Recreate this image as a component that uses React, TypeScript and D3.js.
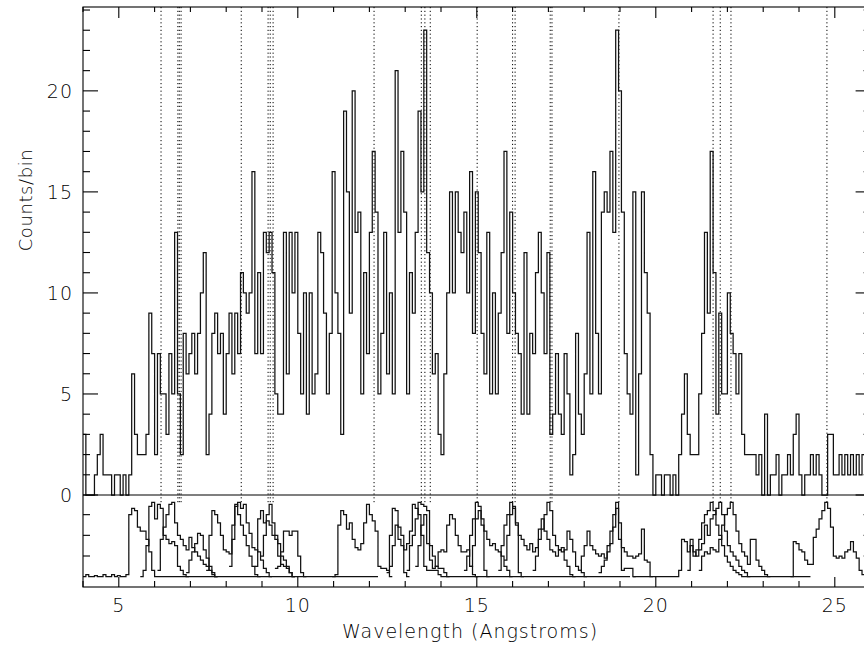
import React from "react";
import * as d3 from "d3";

// histogram grid (Angstrom)
const BIN_START = 4.0;
const BIN_WIDTH = 0.08;

// observed counts per bin, 4.00 .. 26.00 A
const counts = [
  3, 0, 0, 0, 1, 2, 3, 1, 1, 1,
  0, 1, 1, 0, 1, 0, 1, 6, 3, 2,
  2, 2, 3, 9, 7, 2, 7, 5, 5, 3,
  7, 5, 13, 5, 2, 8, 6, 7, 8, 6,
  8, 10, 12, 2, 4, 8, 9, 7, 8, 4,
  7, 9, 6, 9, 7, 11, 10, 9, 10, 16,
  7, 11, 7, 13, 12, 13, 11, 5, 4, 4,
  13, 6, 13, 10, 13, 8, 5, 10, 4, 10,
  5, 6, 13, 12, 9, 5, 8, 16, 10, 8,
  3, 19, 15, 9, 20, 13, 14, 5, 11, 7,
  13, 17, 14, 5, 8, 13, 6, 10, 5, 21,
  13, 17, 14, 5, 11, 9, 13, 19, 15, 23,
  12, 10, 6, 7, 3, 2, 6, 10, 15, 10,
  15, 13, 12, 14, 10, 16, 8, 15, 12, 8,
  6, 13, 5, 10, 5, 9, 12, 17, 8, 14,
  10, 8, 7, 4, 12, 4, 8, 7, 11, 13,
  10, 7, 12, 3, 4, 7, 4, 3, 7, 5,
  1, 2, 8, 4, 3, 6, 13, 5, 16, 8,
  5, 14, 15, 14, 17, 13, 23, 20, 14, 7,
  5, 4, 15, 1, 6, 15, 11, 9, 2, 0,
  1, 1, 0, 1, 1, 0, 1, 0, 2, 4,
  6, 3, 2, 2, 2, 5, 8, 13, 9, 17,
  11, 4, 9, 5, 5, 10, 8, 7, 5, 7,
  3, 2, 2, 2, 2, 1, 2, 0, 4, 0,
  1, 1, 2, 0, 1, 1, 2, 1, 3, 4,
  1, 0, 1, 1, 2, 1, 2, 1, 0, 0,
  3, 3, 1, 1, 2, 1, 2, 1, 2, 1,
  2, 1, 2, 2, 2,
];

// line positions marked with dotted lines
const lineWavelengths = [
  6.18, 6.65, 6.69, 6.74, 8.42, 9.17, 9.23, 9.31, 12.13, 13.45, 13.55, 13.7,
  15.01, 16.0, 16.07, 17.05, 17.1, 18.97, 21.6, 21.8, 22.1, 24.78,
];

const xTickLabels = [5, 10, 15, 20, 25];
const yTickLabels = [0, 5, 10, 15, 20];
const lowerTicks = [1, 2, 3];

// model profiles in the lower panel: first bin index on the grid + values
const profileStarts = [0, 20, 26, 36, 43, 51, 60, 67, 62, 87, 106, 107, 113, 116, 133, 135, 145, 147, 157, 173, 180, 192, 211, 215, 247];

const profile01 = [
  0, 0.1, 0, 0, 0.05, 0, 0, 0.1, 0, 0, 0.1, 0, 0.05, 0, 0, 0.1,
  3.0, 3.3, 3.2, 2.4, 2.2, 2.2, 1.8, 1.2, 0.3,
  0, 0, 0, 0, 0, 0, 0, 0, 0, 0,
  0, 0, 0, 0, 0, 0, 0, 0, 0, 0,
  0, 0, 0, 0, 0, 0, 0, 0, 0, 0,
  0, 0, 0, 0, 0, 0, 0, 0, 0, 0,
  0, 0, 0, 0, 0, 0, 0, 0, 0, 0,
  0, 0, 0, 0, 0, 0, 0, 0, 0, 0,
  0, 0, 0, 0, 0, 0, 0, 0, 0, 0,
  0, 0, 0, 0, 0, 0, 0, 0,
];
const profile02 = [0, 0.3, 1.5, 3.4, 3.6, 2.8, 3.5, 3.3, 2.0, 1.8, 1.6, 1.7, 1.5, 0.5, 0.3, 0.1, 0];
const profile03 = [0.3, 1.8, 2.4, 3.0, 3.5, 3.6, 2.6, 2.0, 1.8, 1.5, 1.3, 1.9, 1.4, 1.2, 1.0, 0.8, 0.6, 0.5, 0.3, 0.1, 0];
const profile04 = [0.2, 0.8, 1.2, 1.6, 2.1, 2.0, 1.3, 0.9, 0.5, 0.2, 0];
const profile05 = [0.3, 2.0, 3.2, 3.0, 2.6, 2.0, 1.3, 1.2, 1.1, 1.8, 3.4, 3.6, 3.3, 3.5, 2.6, 2.1, 1.4, 1.3, 1.2, 0.8, 0.4, 0.2, 0];
const profile06 = [0.5, 2.5, 3.5, 3.0, 2.5, 2.0, 1.5, 1.0, 0.5, 0.1, 0];
const profile07 = [0.5, 2.8, 3.2, 2.6, 2.7, 2.5, 2.0, 1.8, 1.0, 0.6, 0.5, 0.4, 0.2, 0];
const profile08 = [0.4, 0.5, 1.2, 2.2, 2.2, 2.0, 2.2, 2.2, 1.0, 0.2, 0];
const profile09 = [1.0, 2.0, 3.0, 3.5, 2.6, 2.0, 1.6, 1.0, 0.8, 0.5, 0.2, 0];
const profile10 = [0, 0.1, 2.5, 3.2, 3.0, 2.3, 2.6, 1.8, 1.4, 1.3, 1.6, 2.6, 3.5, 3.0, 2.7, 2.2, 0.5, 0.4, 0.4, 0.3, 0];
const profile11 = [0.2, 2.0, 3.3, 3.2, 2.4, 2.0, 0.2, 0];
const profile12 = [
  0.5, 1.5, 2.5, 1.8, 1.5, 1.3, 1.6, 2.2, 3.5, 3.3, 3.0, 2.0, 0.5, 0.3, 0.3, 0.3, 0.3, 0.1, 0,
  0, 0, 0, 0, 0, 0, 0, 0, 0, 0,
  0, 0, 0, 0, 0, 0, 0, 0, 0, 0,
  0, 0, 0, 0, 0, 0, 0, 0, 0, 0,
  0, 0, 0, 0, 0, 0, 0, 0, 0, 0,
  0, 0, 0, 0, 0, 0, 0, 0, 0, 0,
  0, 0, 0, 0, 0, 0, 0, 0, 0, 0,
  0, 0, 0, 0, 0,
];
const profile13 = [0.3, 1.5, 2.0, 2.8, 3.6, 3.5, 3.4, 3.2, 1.5, 1.0, 0.5, 0.4, 0.4, 0.2, 0];
const profile14 = [0.5, 1.5, 2.5, 3.0, 1.6, 0.8, 0.4, 0.5, 1.2, 1.3, 1.2, 2.5, 3.0, 2.8, 2.0, 1.5, 1.2, 1.2, 1.3, 0.5, 0.1, 0];
const profile15 = [0.3, 1.0, 2.0, 2.8, 3.6, 3.4, 2.5, 0.3, 0];
const profile16 = [0.5, 1.5, 2.8, 3.2, 2.8, 2.2, 1.8, 1.5, 1.6, 1.3, 1.2, 1.0, 0.5, 0.3, 0];
const profile17 = [0.3, 1.5, 2.5, 3.0, 3.6, 3.3, 2.5, 0.2, 0];
const profile18 = [0.8, 2.0, 3.0, 3.4, 2.6, 2.0, 1.8, 1.5, 1.3, 1.6, 1.2, 1.4, 2.3, 2.8, 2.2, 1.8, 1.3, 1.2, 1.0, 1.3, 1.4, 0.8, 0.5, 0.1, 0];
const profile19 = [0.3, 1.0, 1.8, 2.3, 3.0, 3.6, 3.2, 2.0, 1.5, 1.3, 1.2, 1.3, 2.2, 1.8, 1.2, 0.5, 0.3, 0.2, 0];
const profile20 = [0.3, 1.0, 1.5, 2.2, 1.5, 1.3, 1.1, 1.0, 1.1, 0.9, 1.5, 2.2, 3.0, 3.6, 2.6, 1.4, 1.2, 1.0, 1.0, 0.9, 1.0, 1.1, 2.3, 0.8, 0.7, 0];
const profile21 = [0.2, 0.5, 0.8, 1.2, 1.6, 2.4, 3.3, 1.8, 0.3, 0.4, 0.4, 0.4, 0];
const profile22 = [
  0, 0, 0, 0, 0, 0, 0, 0, 0, 0, 0, 0, 0, 0, 0, 0,
  0.3, 1.8, 1.7, 1.2, 1.5, 1.0, 1.3, 1.8, 2.6, 3.0, 3.2, 3.6, 3.2, 2.5, 2.0, 1.5, 1.0, 0.7, 0.5, 0.3, 0.2, 0.1, 0,
  0, 0, 0, 0, 0, 0, 0, 0, 0, 0,
  0, 0, 0, 0, 0, 0, 0, 0, 0, 0,
  0, 0, 0,
];
const profile23 = [0.3, 1.8, 1.2, 1.0, 1.3, 1.6, 2.5, 2.0, 2.8, 3.0, 3.3, 3.6, 3.0, 2.2, 1.5, 1.2, 1.0, 0.8, 0.5, 0.3, 0.2, 0];
const profile24 = [0.3, 1.0, 1.2, 1.1, 1.4, 1.3, 1.2, 1.8, 2.5, 3.0, 3.3, 3.6, 3.0, 2.2, 1.6, 1.2, 1.0, 0.6, 1.8, 1.8, 0.8, 0.5, 0.3, 0.1, 0];
const profile25 = [0, 1.7, 1.6, 1.3, 1.2, 0.8, 0.6, 0.6, 1.9, 2.3, 2.8, 3.2, 3.6, 3.3, 2.4, 1.0, 0.9, 1.0, 0.9, 1.2, 1.3, 1.7, 1.2, 0.9, 0.3, 0.1, 0, 0];

const profiles = [
  profile01, profile02, profile03, profile04, profile05, profile06, profile07, profile08, profile09,
  profile10, profile11, profile12, profile13, profile14, profile15, profile16, profile17, profile18,
  profile19, profile20, profile21, profile22, profile23, profile24, profile25,
];

const W = 864;
const H = 658;
const FONT = "'DejaVu Sans', sans-serif";

export default function App() {
  const left = 83;
  const top = 7;
  const split = 495;
  const bottom = 587;

  const x = d3.scaleLinear().domain([4, 26]).range([left, 870.6]);
  const right = x(26);
  const yTop = d3.scaleLinear().domain([0, 24.15]).range([split, top]);
  const yLow = d3.scaleLinear().domain([-0.5, 4.0]).range([bottom, 494]);

  const stepPath = (start: number, vals: number[], y: d3.ScaleLinear<number, number>) => {
    const pts: [number, number][] = vals.map((v, i) => [BIN_START + (start + i) * BIN_WIDTH, v]);
    pts.push([BIN_START + (start + vals.length) * BIN_WIDTH, vals[vals.length - 1]]);
    return d3
      .line<[number, number]>()
      .x((d) => x(d[0]))
      .y((d) => y(d[1]))
      .curve(d3.curveStepAfter)(pts) as string;
  };

  const minorX = d3.range(4, 27, 1);
  const minorY = d3.range(0, 25, 1);

  return (
    <svg width={W} height={H} style={{ position: "absolute", left: 0, top: 0, background: "#fff" }}>
      <defs>
        <clipPath id="plotArea">
          <rect x={left} y={top} width={right - left} height={bottom - top} />
        </clipPath>
      </defs>

      {/* dotted line markers */}
      <g stroke="#000" strokeWidth={1} strokeDasharray="1.2,2.6">
        {lineWavelengths.map((w, i) => (
          <line key={i} x1={x(w)} x2={x(w)} y1={top} y2={yTop(-0.4)} />
        ))}
      </g>

      <g clipPath="url(#plotArea)" fill="none" stroke="#111" strokeWidth={1.25}>
        <path d={stepPath(0, counts, yTop)} />
        {profiles.map((p, i) => (
          <path key={i} d={stepPath(profileStarts[i], p, yLow)} />
        ))}
      </g>

      {/* frame */}
      <g stroke="#000" strokeWidth={1.1} fill="none">
        <rect x={left} y={top} width={right - left} height={bottom - top} />
        <line x1={left} x2={right} y1={split} y2={split} />
        {minorX.map((v) => {
          const major = v % 5 === 0;
          return (
            <g key={v}>
              <line x1={x(v)} x2={x(v)} y1={bottom} y2={bottom - (major ? 10 : 6)} />
              <line x1={x(v)} x2={x(v)} y1={top} y2={top + (major ? 11 : 5)} />
            </g>
          );
        })}
        {minorY.map((v) => {
          const len = v % 5 === 0 ? 15 : 7;
          return (
            <g key={v}>
              <line x1={left} x2={left + len} y1={yTop(v)} y2={yTop(v)} />
              <line x1={right} x2={right - len} y1={yTop(v)} y2={yTop(v)} />
            </g>
          );
        })}
        {lowerTicks.map((v) => (
          <g key={v}>
            <line x1={left} x2={left + 7} y1={yLow(v)} y2={yLow(v)} />
            <line x1={right} x2={right - 7} y1={yLow(v)} y2={yLow(v)} />
          </g>
        ))}
      </g>

      {/* labels */}
      <g fontFamily={FONT} fontWeight={200} fontSize={19} fill="#000">
        {xTickLabels.map((v) => (
          <text key={v} x={x(v)} y={bottom + 25} textAnchor="middle" letterSpacing={1}>
            {v}
          </text>
        ))}
        {yTickLabels.map((v) => (
          <text key={v} x={left - 10} y={yTop(v) + 7} textAnchor="end" letterSpacing={1}>
            {v}
          </text>
        ))}
        <text x={470} y={bottom + 51} textAnchor="middle" letterSpacing={1}>
          Wavelength (Angstroms)
        </text>
        <text transform={`translate(32, 200) rotate(-90)`} textAnchor="middle" fontSize={18} letterSpacing={0.6}>
          Counts/bin
        </text>
      </g>
    </svg>
  );
}
